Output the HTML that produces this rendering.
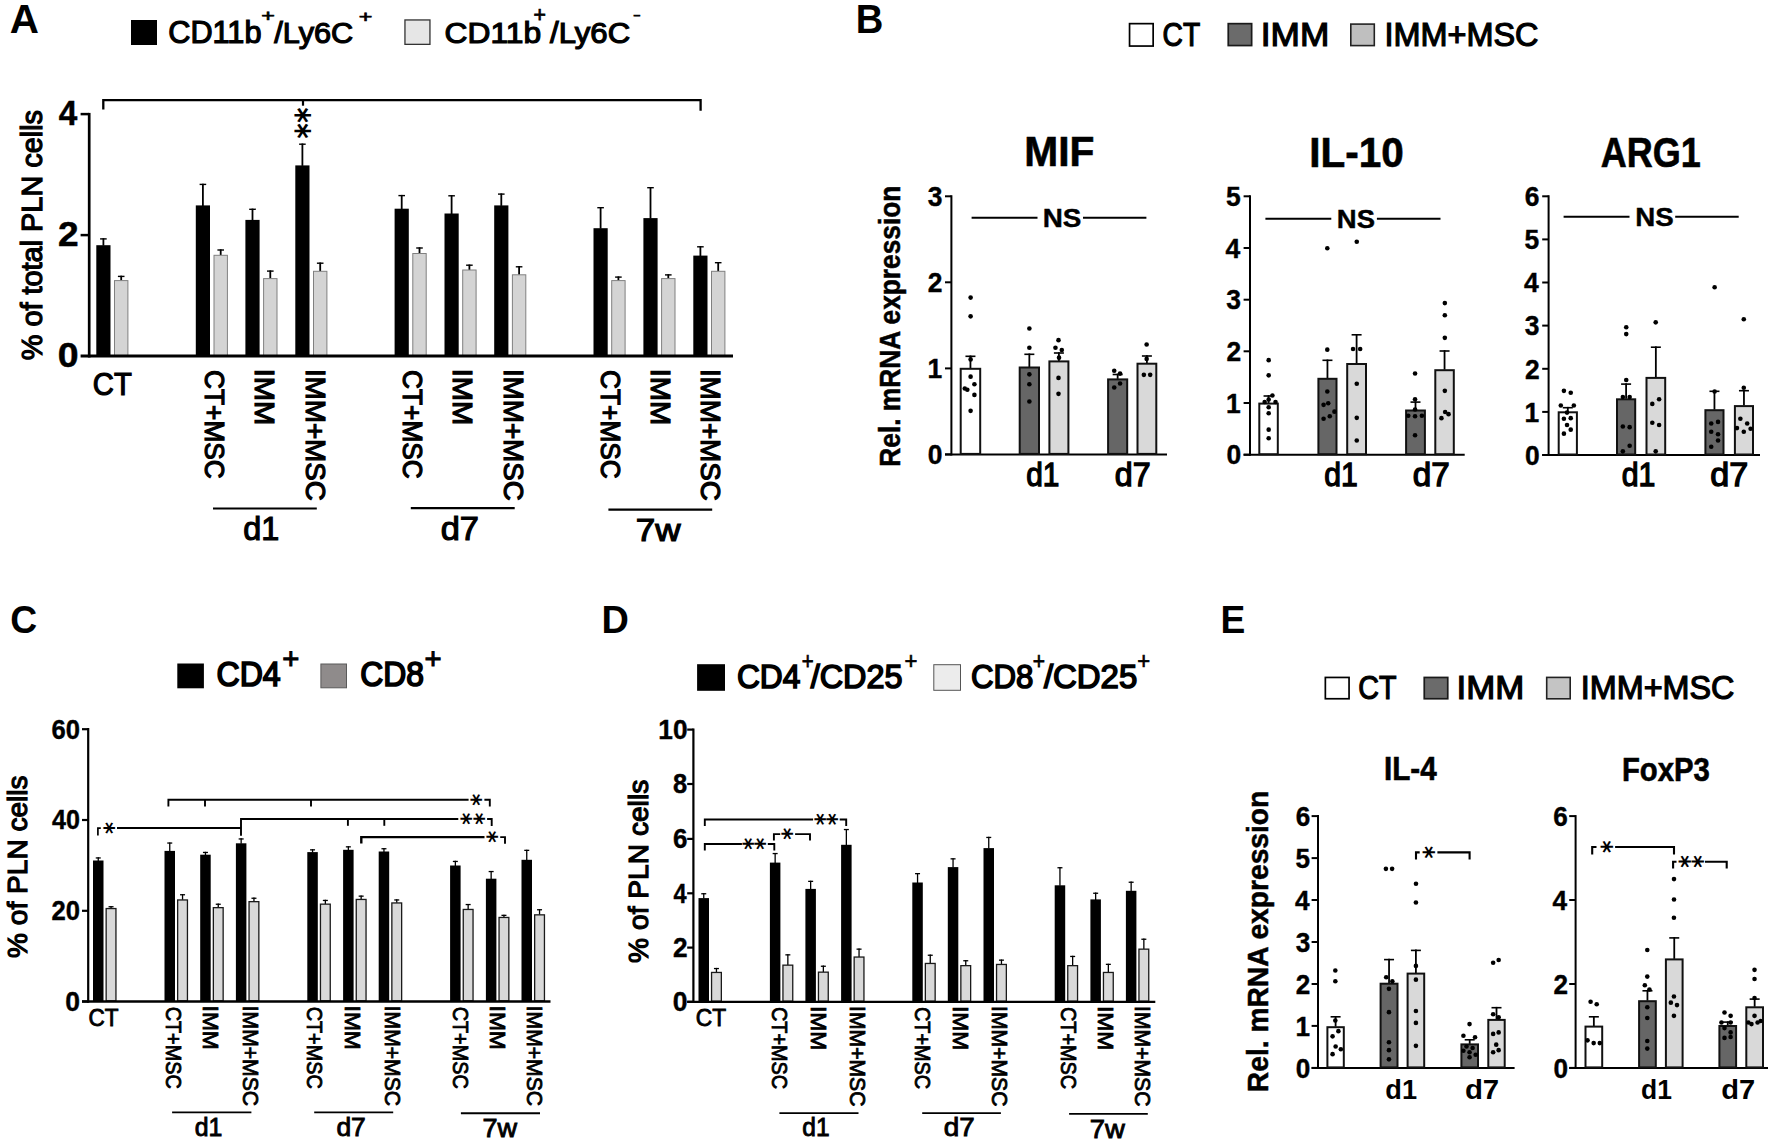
<!DOCTYPE html>
<html><head><meta charset="utf-8"><title>Figure</title>
<style>
html,body{margin:0;padding:0;background:#fff;}
body{width:1772px;height:1145px;overflow:hidden;}
svg{display:block;}
svg text{font-family:"Liberation Sans",sans-serif;fill:#000;}
</style></head><body>
<svg width="1772" height="1145" viewBox="0 0 1772 1145">
<rect width="1772" height="1145" fill="#fff"/>
<text transform="translate(9.79 33.2) scale(1.0186 1)" font-size="39.71" font-weight="bold">A</text>
<text transform="translate(855.82 33.2) scale(0.9619 1)" font-size="39.71" font-weight="bold">B</text>
<text transform="translate(10.31 632.9) scale(0.9381 1)" font-size="39.71" font-weight="bold">C</text>
<text transform="translate(601.44 632.9) scale(0.9541 1)" font-size="39.71" font-weight="bold">D</text>
<text transform="translate(1220.58 632.9) scale(0.9360 1)" font-size="39.71" font-weight="bold">E</text>
<rect x="131" y="20" width="26" height="25" fill="#000"/>
<text transform="translate(168.27 42.6) scale(1.0080 1)" font-size="30.43" stroke="#000" stroke-width="1.2">CD11b</text>
<text transform="translate(261.24 20.91) scale(0.2330 0.1571)" font-size="100" stroke="#000" stroke-width="4.1">+</text>
<text transform="translate(274.2 42.6) scale(1.0090 1)" font-size="30.43" stroke="#000" stroke-width="1.2">/Ly6C</text>
<text transform="translate(358.74 21.57) scale(0.2330 0.1633)" font-size="100" stroke="#000" stroke-width="4.04">+</text>
<rect x="404.95" y="19.95" width="25" height="24.4" fill="#e6e6e6" stroke="#333" stroke-width="1.3"/>
<text transform="translate(444.51 42.6) scale(1.0447 1)" font-size="30.43" stroke="#000" stroke-width="1.2">CD11b</text>
<text transform="translate(533.44 22.05) scale(0.2124 0.2163)" font-size="100" stroke="#000" stroke-width="3.73">+</text>
<text transform="translate(550 42.6) scale(1.0232 1)" font-size="30.43" stroke="#000" stroke-width="1.2">/Ly6C</text>
<text transform="translate(633.13 19.11) scale(0.2163 0.1250)" font-size="100" stroke="#000" stroke-width="7.03">-</text>
<text transform="translate(58.85 125.2) scale(0.9486 1)" font-size="35.07" font-weight="bold" stroke="#000" stroke-width="0.5">4</text>
<text transform="translate(58.05 246.2) scale(1.0573 1)" font-size="35.07" font-weight="bold" stroke="#000" stroke-width="0.5">2</text>
<text transform="translate(57.85 367.4) scale(1.0685 1)" font-size="35.07" font-weight="bold" stroke="#000" stroke-width="0.5">0</text>
<text transform="translate(41.8 360.31) rotate(-90) scale(0.9965 1)" font-size="28.99" stroke="#000" stroke-width="1.2">% of total PLN cells</text>
<path d="M103.4 238.2L103.4 245.7" fill="none" stroke="#000" stroke-width="1.8"/>
<path d="M100.1 238.9L106.7 238.9" fill="none" stroke="#000" stroke-width="1.4"/>
<rect x="96.3" y="245.2" width="14.2" height="110.8" fill="#000"/>
<path d="M121.2 275.7L121.2 280.6" fill="none" stroke="#000" stroke-width="1.8"/>
<path d="M117.9 276.4L124.5 276.4" fill="none" stroke="#000" stroke-width="1.4"/>
<rect x="114.5" y="280.6" width="13.4" height="74.9" fill="#d4d4d4" stroke="#808080" stroke-width="1"/>
<path d="M202.9 183.7L202.9 205.9" fill="none" stroke="#000" stroke-width="1.8"/>
<path d="M199.6 184.4L206.2 184.4" fill="none" stroke="#000" stroke-width="1.4"/>
<rect x="195.8" y="205.4" width="14.2" height="150.6" fill="#000"/>
<path d="M220.7 249.3L220.7 255.3" fill="none" stroke="#000" stroke-width="1.8"/>
<path d="M217.4 250L224 250" fill="none" stroke="#000" stroke-width="1.4"/>
<rect x="214" y="255.3" width="13.4" height="100.2" fill="#d4d4d4" stroke="#808080" stroke-width="1"/>
<path d="M252.5 208.6L252.5 220.4" fill="none" stroke="#000" stroke-width="1.8"/>
<path d="M249.2 209.3L255.8 209.3" fill="none" stroke="#000" stroke-width="1.4"/>
<rect x="245.4" y="219.9" width="14.2" height="136.1" fill="#000"/>
<path d="M270.3 270.4L270.3 278.6" fill="none" stroke="#000" stroke-width="1.8"/>
<path d="M267 271.1L273.6 271.1" fill="none" stroke="#000" stroke-width="1.4"/>
<rect x="263.6" y="278.6" width="13.4" height="76.9" fill="#d4d4d4" stroke="#808080" stroke-width="1"/>
<path d="M302.4 143.5L302.4 165.9" fill="none" stroke="#000" stroke-width="1.8"/>
<path d="M299.1 144.2L305.7 144.2" fill="none" stroke="#000" stroke-width="1.4"/>
<rect x="295.3" y="165.4" width="14.2" height="190.6" fill="#000"/>
<path d="M320.2 262.5L320.2 271.3" fill="none" stroke="#000" stroke-width="1.8"/>
<path d="M316.9 263.2L323.5 263.2" fill="none" stroke="#000" stroke-width="1.4"/>
<rect x="313.5" y="271.3" width="13.4" height="84.2" fill="#d4d4d4" stroke="#808080" stroke-width="1"/>
<path d="M401.7 194.9L401.7 209.2" fill="none" stroke="#000" stroke-width="1.8"/>
<path d="M398.4 195.6L405 195.6" fill="none" stroke="#000" stroke-width="1.4"/>
<rect x="394.6" y="208.7" width="14.2" height="147.3" fill="#000"/>
<path d="M419.5 247.3L419.5 253.5" fill="none" stroke="#000" stroke-width="1.8"/>
<path d="M416.2 248L422.8 248" fill="none" stroke="#000" stroke-width="1.4"/>
<rect x="412.8" y="253.5" width="13.4" height="102" fill="#d4d4d4" stroke="#808080" stroke-width="1"/>
<path d="M451.6 195.1L451.6 214" fill="none" stroke="#000" stroke-width="1.8"/>
<path d="M448.3 195.8L454.9 195.8" fill="none" stroke="#000" stroke-width="1.4"/>
<rect x="444.5" y="213.5" width="14.2" height="142.5" fill="#000"/>
<path d="M469.4 264.5L469.4 270" fill="none" stroke="#000" stroke-width="1.8"/>
<path d="M466.1 265.2L472.7 265.2" fill="none" stroke="#000" stroke-width="1.4"/>
<rect x="462.7" y="270" width="13.4" height="85.5" fill="#d4d4d4" stroke="#808080" stroke-width="1"/>
<path d="M501.3 193.4L501.3 205.9" fill="none" stroke="#000" stroke-width="1.8"/>
<path d="M498 194.1L504.6 194.1" fill="none" stroke="#000" stroke-width="1.4"/>
<rect x="494.2" y="205.4" width="14.2" height="150.6" fill="#000"/>
<path d="M519.1 266.1L519.1 274.8" fill="none" stroke="#000" stroke-width="1.8"/>
<path d="M515.8 266.8L522.4 266.8" fill="none" stroke="#000" stroke-width="1.4"/>
<rect x="512.4" y="274.8" width="13.4" height="80.7" fill="#d4d4d4" stroke="#808080" stroke-width="1"/>
<path d="M600.6 207L600.6 228.7" fill="none" stroke="#000" stroke-width="1.8"/>
<path d="M597.3 207.7L603.9 207.7" fill="none" stroke="#000" stroke-width="1.4"/>
<rect x="593.5" y="228.2" width="14.2" height="127.8" fill="#000"/>
<path d="M618.4 276.4L618.4 280.6" fill="none" stroke="#000" stroke-width="1.8"/>
<path d="M615.1 277.1L621.7 277.1" fill="none" stroke="#000" stroke-width="1.4"/>
<rect x="611.7" y="280.6" width="13.4" height="74.9" fill="#d4d4d4" stroke="#808080" stroke-width="1"/>
<path d="M650.5 187L650.5 218.6" fill="none" stroke="#000" stroke-width="1.8"/>
<path d="M647.2 187.7L653.8 187.7" fill="none" stroke="#000" stroke-width="1.4"/>
<rect x="643.4" y="218.1" width="14.2" height="137.9" fill="#000"/>
<path d="M668.3 274.2L668.3 278.6" fill="none" stroke="#000" stroke-width="1.8"/>
<path d="M665 274.9L671.6 274.9" fill="none" stroke="#000" stroke-width="1.4"/>
<rect x="661.6" y="278.6" width="13.4" height="76.9" fill="#d4d4d4" stroke="#808080" stroke-width="1"/>
<path d="M700.4 246.1L700.4 256.1" fill="none" stroke="#000" stroke-width="1.8"/>
<path d="M697.1 246.8L703.7 246.8" fill="none" stroke="#000" stroke-width="1.4"/>
<rect x="693.3" y="255.6" width="14.2" height="100.4" fill="#000"/>
<path d="M718.2 262L718.2 271.3" fill="none" stroke="#000" stroke-width="1.8"/>
<path d="M714.9 262.7L721.5 262.7" fill="none" stroke="#000" stroke-width="1.4"/>
<rect x="711.5" y="271.3" width="13.4" height="84.2" fill="#d4d4d4" stroke="#808080" stroke-width="1"/>
<path d="M89.2 112.9L89.2 357.5" fill="none" stroke="#000" stroke-width="2.7"/>
<path d="M80.6 356L733 356" fill="none" stroke="#000" stroke-width="3"/>
<path d="M80.6 114.1L89.2 114.1" fill="none" stroke="#000" stroke-width="2.5"/>
<path d="M80.6 235.1L89.2 235.1" fill="none" stroke="#000" stroke-width="2.5"/>
<path d="M103.3 109.4L103.3 100.1L700.6 100.1L700.6 110.7" fill="none" stroke="#000" stroke-width="2.3"/>
<path d="M303 100.1L303 105.7" fill="none" stroke="#000" stroke-width="2.2"/>
<text transform="translate(285.43 107.56) rotate(90) scale(0.2938 0.3462)" font-size="100" font-weight="bold" style="font-family:'DejaVu Sans',sans-serif">*</text>
<text transform="translate(285.43 123.36) rotate(90) scale(0.2938 0.3462)" font-size="100" font-weight="bold" style="font-family:'DejaVu Sans',sans-serif">*</text>
<text transform="translate(92.84 394.6) scale(0.9373 1)" font-size="31.16" stroke="#000" stroke-width="1.2">CT</text>
<text transform="translate(205 370.09) rotate(90) scale(0.9335 1)" font-size="28.12" stroke="#000" stroke-width="1.2">CT+MSC</text>
<text transform="translate(254.8 368.78) rotate(90) scale(1.0349 1)" font-size="28.12" stroke="#000" stroke-width="1.2">IMM</text>
<text transform="translate(306 368.9) rotate(90) scale(0.9882 1)" font-size="28.12" stroke="#000" stroke-width="1.2">IMM+MSC</text>
<text transform="translate(403.4 370.09) rotate(90) scale(0.9335 1)" font-size="28.12" stroke="#000" stroke-width="1.2">CT+MSC</text>
<text transform="translate(453.1 368.78) rotate(90) scale(1.0349 1)" font-size="28.12" stroke="#000" stroke-width="1.2">IMM</text>
<text transform="translate(503.7 368.9) rotate(90) scale(0.9882 1)" font-size="28.12" stroke="#000" stroke-width="1.2">IMM+MSC</text>
<text transform="translate(600.7 370.09) rotate(90) scale(0.9335 1)" font-size="28.12" stroke="#000" stroke-width="1.2">CT+MSC</text>
<text transform="translate(650.6 368.78) rotate(90) scale(1.0349 1)" font-size="28.12" stroke="#000" stroke-width="1.2">IMM</text>
<text transform="translate(701.2 368.9) rotate(90) scale(0.9882 1)" font-size="28.12" stroke="#000" stroke-width="1.2">IMM+MSC</text>
<path d="M213 508.5L316.8 508.5" fill="none" stroke="#000" stroke-width="2.2"/>
<path d="M410.8 508.2L514.7 508.2" fill="none" stroke="#000" stroke-width="2.2"/>
<path d="M608.4 509.6L712.2 509.6" fill="none" stroke="#000" stroke-width="2.2"/>
<text transform="translate(243.2 539.7) scale(0.9592 1)" font-size="33.77" stroke="#000" stroke-width="1.2">d1</text>
<text transform="translate(440.72 539.7) scale(1.0191 1)" font-size="33.77" stroke="#000" stroke-width="1.2">d7</text>
<text transform="translate(635.65 540.5) scale(1.0990 1)" font-size="31.88" stroke="#000" stroke-width="1.2">7w</text>
<rect x="1129.55" y="23.65" width="23.6" height="22.4" fill="#fff" stroke="#000" stroke-width="1.7"/>
<text transform="translate(1162.59 45.8) scale(0.8718 1)" font-size="32.32" stroke="#000" stroke-width="1.2">CT</text>
<rect x="1228.25" y="23.65" width="23.4" height="21.9" fill="#6b6b6b" stroke="#1a1a1a" stroke-width="1.7"/>
<text transform="translate(1260.83 45.8) scale(1.0908 1)" font-size="32.32" stroke="#000" stroke-width="1.2">IMM</text>
<rect x="1350.8" y="24.1" width="23.5" height="21.5" fill="#bfbfbf" stroke="#222" stroke-width="1.6"/>
<text transform="translate(1384.48 46.2) scale(1.0035 1)" font-size="32.32" stroke="#000" stroke-width="1.2">IMM+MSC</text>
<text transform="translate(1024.25 165.9) scale(0.9693 1)" font-size="42.03" font-weight="bold" stroke="#000" stroke-width="0.6">MIF</text>
<text transform="translate(1309.17 166.5) scale(0.9645 1)" font-size="42.03" font-weight="bold" stroke="#000" stroke-width="0.6">IL-10</text>
<text transform="translate(1600.7 166.5) scale(0.8566 1)" font-size="42.03" font-weight="bold" stroke="#000" stroke-width="0.6">ARG1</text>
<text transform="translate(899.8 466.66) rotate(-90) scale(0.8897 1)" font-size="29.57" font-weight="bold" stroke="#000" stroke-width="0.5">Rel. mRNA expression</text>
<path d="M951.4 195.3L951.4 455.4" fill="none" stroke="#000" stroke-width="2"/>
<path d="M945 454.4L1167 454.4" fill="none" stroke="#000" stroke-width="2"/>
<path d="M945 196.3L951.4 196.3" fill="none" stroke="#000" stroke-width="2"/>
<text transform="translate(927.65 206) scale(0.9703 1)" font-size="27.25" font-weight="bold" stroke="#000" stroke-width="0.4">3</text>
<path d="M945 282.3L951.4 282.3" fill="none" stroke="#000" stroke-width="2"/>
<text transform="translate(927.8 292) scale(0.9694 1)" font-size="27.25" font-weight="bold" stroke="#000" stroke-width="0.4">2</text>
<path d="M945 368.4L951.4 368.4" fill="none" stroke="#000" stroke-width="2"/>
<text transform="translate(927.41 378.1) scale(0.9688 1)" font-size="27.25" font-weight="bold" stroke="#000" stroke-width="0.4">1</text>
<path d="M945 454.4L951.4 454.4" fill="none" stroke="#000" stroke-width="2"/>
<text transform="translate(927.8 464.1) scale(0.9691 1)" font-size="27.25" font-weight="bold" stroke="#000" stroke-width="0.4">0</text>
<path d="M970.45 355.5L970.45 368.3" fill="none" stroke="#000" stroke-width="1.8"/>
<path d="M965.45 356.3L975.45 356.3" fill="none" stroke="#000" stroke-width="1.6"/>
<rect x="960.7" y="368.8" width="19.5" height="85.1" fill="#fff" stroke="#111" stroke-width="2"/>
<path d="M1029.35 353.5L1029.35 367" fill="none" stroke="#000" stroke-width="1.8"/>
<path d="M1024.35 354.3L1034.35 354.3" fill="none" stroke="#000" stroke-width="1.6"/>
<rect x="1019.7" y="367.5" width="19.3" height="86.4" fill="#666" stroke="#111" stroke-width="2"/>
<path d="M1058.9 352.2L1058.9 360.9" fill="none" stroke="#000" stroke-width="1.8"/>
<path d="M1053.9 353L1063.9 353" fill="none" stroke="#000" stroke-width="1.6"/>
<rect x="1049.4" y="361.4" width="19" height="92.5" fill="#d9d9d9" stroke="#111" stroke-width="2"/>
<path d="M1117.65 373.7L1117.65 378.9" fill="none" stroke="#000" stroke-width="1.8"/>
<path d="M1112.65 374.5L1122.65 374.5" fill="none" stroke="#000" stroke-width="1.6"/>
<rect x="1108.1" y="379.4" width="19.1" height="74.5" fill="#666" stroke="#111" stroke-width="2"/>
<path d="M1146.9 355.2L1146.9 363.2" fill="none" stroke="#000" stroke-width="1.8"/>
<path d="M1141.9 356L1151.9 356" fill="none" stroke="#000" stroke-width="1.6"/>
<rect x="1137.5" y="363.7" width="18.8" height="90.2" fill="#d9d9d9" stroke="#111" stroke-width="2"/>
<circle cx="970.61" cy="297.62" r="2.3"/>
<circle cx="970.61" cy="316.36" r="2.3"/>
<circle cx="970.61" cy="359.42" r="2.3"/>
<circle cx="970.61" cy="376.65" r="2.3"/>
<circle cx="964.78" cy="388.55" r="2.3"/>
<circle cx="967.32" cy="389.82" r="2.3"/>
<circle cx="974.41" cy="384.25" r="2.3"/>
<circle cx="974.41" cy="394.88" r="2.3"/>
<circle cx="970.61" cy="410.84" r="2.3"/>
<circle cx="1029.37" cy="328.52" r="2.3"/>
<circle cx="1029.37" cy="347.77" r="2.3"/>
<circle cx="1029.37" cy="374.37" r="2.3"/>
<circle cx="1029.37" cy="384.25" r="2.3"/>
<circle cx="1029.37" cy="401.47" r="2.3"/>
<circle cx="1058.5" cy="340.17" r="2.3"/>
<circle cx="1055.46" cy="347.77" r="2.3"/>
<circle cx="1061.8" cy="350.05" r="2.3"/>
<circle cx="1059.01" cy="357.65" r="2.3"/>
<circle cx="1058.5" cy="377.91" r="2.3"/>
<circle cx="1058.5" cy="393.87" r="2.3"/>
<circle cx="1114.23" cy="370.82" r="2.3"/>
<circle cx="1120.05" cy="373.61" r="2.3"/>
<circle cx="1114.23" cy="387.54" r="2.3"/>
<circle cx="1120.05" cy="383.49" r="2.3"/>
<circle cx="1146.65" cy="344.48" r="2.3"/>
<circle cx="1146.65" cy="358.92" r="2.3"/>
<circle cx="1143.86" cy="374.87" r="2.3"/>
<circle cx="1150.19" cy="374.87" r="2.3"/>
<text transform="translate(1026.16 485.8) scale(0.9155 1)" font-size="32.61" stroke="#000" stroke-width="1.3">d1</text>
<text transform="translate(1114.76 485.8) scale(0.9892 1)" font-size="32.61" stroke="#000" stroke-width="1.3">d7</text>
<path d="M971.6 217.8L1037.5 217.8" fill="none" stroke="#000" stroke-width="2"/>
<path d="M1083 217.8L1146.4 217.8" fill="none" stroke="#000" stroke-width="2"/>
<text transform="translate(1042.69 227) scale(1.0680 1)" font-size="26.09" font-weight="bold" stroke="#000" stroke-width="0.4">NS</text>
<path d="M1250 195.3L1250 455.7" fill="none" stroke="#000" stroke-width="2"/>
<path d="M1243.6 454.7L1464.7 454.7" fill="none" stroke="#000" stroke-width="2"/>
<path d="M1243.6 196.3L1250 196.3" fill="none" stroke="#000" stroke-width="2"/>
<text transform="translate(1225.98 206) scale(0.9706 1)" font-size="27.25" font-weight="bold" stroke="#000" stroke-width="0.4">5</text>
<path d="M1243.6 248L1250 248" fill="none" stroke="#000" stroke-width="2"/>
<text transform="translate(1225.43 257.7) scale(0.9726 1)" font-size="27.25" font-weight="bold" stroke="#000" stroke-width="0.4">4</text>
<path d="M1243.6 299.7L1250 299.7" fill="none" stroke="#000" stroke-width="2"/>
<text transform="translate(1226.25 309.4) scale(0.9703 1)" font-size="27.25" font-weight="bold" stroke="#000" stroke-width="0.4">3</text>
<path d="M1243.6 351.3L1250 351.3" fill="none" stroke="#000" stroke-width="2"/>
<text transform="translate(1226.4 361) scale(0.9694 1)" font-size="27.25" font-weight="bold" stroke="#000" stroke-width="0.4">2</text>
<path d="M1243.6 403L1250 403" fill="none" stroke="#000" stroke-width="2"/>
<text transform="translate(1226.01 412.7) scale(0.9688 1)" font-size="27.25" font-weight="bold" stroke="#000" stroke-width="0.4">1</text>
<path d="M1243.6 454.7L1250 454.7" fill="none" stroke="#000" stroke-width="2"/>
<text transform="translate(1226.4 464.4) scale(0.9691 1)" font-size="27.25" font-weight="bold" stroke="#000" stroke-width="0.4">0</text>
<path d="M1268.55 395.2L1268.55 403.1" fill="none" stroke="#000" stroke-width="1.8"/>
<path d="M1263.55 396L1273.55 396" fill="none" stroke="#000" stroke-width="1.6"/>
<rect x="1259.3" y="403.6" width="18.5" height="50.6" fill="#fff" stroke="#111" stroke-width="2"/>
<path d="M1327.45 359.5L1327.45 378.3" fill="none" stroke="#000" stroke-width="1.8"/>
<path d="M1322.45 360.3L1332.45 360.3" fill="none" stroke="#000" stroke-width="1.6"/>
<rect x="1318.4" y="378.8" width="18.1" height="75.4" fill="#666" stroke="#111" stroke-width="2"/>
<path d="M1356.6 334L1356.6 363.5" fill="none" stroke="#000" stroke-width="1.8"/>
<path d="M1351.6 334.8L1361.6 334.8" fill="none" stroke="#000" stroke-width="1.6"/>
<rect x="1347.2" y="364" width="18.8" height="90.2" fill="#d9d9d9" stroke="#111" stroke-width="2"/>
<path d="M1415.5 401.3L1415.5 410" fill="none" stroke="#000" stroke-width="1.8"/>
<path d="M1410.5 402.1L1420.5 402.1" fill="none" stroke="#000" stroke-width="1.6"/>
<rect x="1406.1" y="410.5" width="18.8" height="43.7" fill="#666" stroke="#111" stroke-width="2"/>
<path d="M1444.55 350.2L1444.55 369.7" fill="none" stroke="#000" stroke-width="1.8"/>
<path d="M1439.55 351L1449.55 351" fill="none" stroke="#000" stroke-width="1.6"/>
<rect x="1435.3" y="370.2" width="18.5" height="84" fill="#d9d9d9" stroke="#111" stroke-width="2"/>
<circle cx="1268.69" cy="360.17" r="2.3"/>
<circle cx="1268.69" cy="375.37" r="2.3"/>
<circle cx="1264.66" cy="402.04" r="2.3"/>
<circle cx="1272.41" cy="395.52" r="2.3"/>
<circle cx="1275.52" cy="402.04" r="2.3"/>
<circle cx="1268.69" cy="399.56" r="2.3"/>
<circle cx="1268.69" cy="407.31" r="2.3"/>
<circle cx="1268.69" cy="413.2" r="2.3"/>
<circle cx="1268.69" cy="429.64" r="2.3"/>
<circle cx="1268.69" cy="438.32" r="2.3"/>
<circle cx="1327.3" cy="248.22" r="2.3"/>
<circle cx="1327.3" cy="349.63" r="2.3"/>
<circle cx="1327.3" cy="391.49" r="2.3"/>
<circle cx="1323.58" cy="404.83" r="2.3"/>
<circle cx="1328.23" cy="403.28" r="2.3"/>
<circle cx="1323.58" cy="418.78" r="2.3"/>
<circle cx="1329.78" cy="416.3" r="2.3"/>
<circle cx="1334.44" cy="411.65" r="2.3"/>
<circle cx="1356.76" cy="241.71" r="2.3"/>
<circle cx="1353.04" cy="349.01" r="2.3"/>
<circle cx="1360.17" cy="349.01" r="2.3"/>
<circle cx="1356.76" cy="383.74" r="2.3"/>
<circle cx="1356.76" cy="417.85" r="2.3"/>
<circle cx="1356.76" cy="440.49" r="2.3"/>
<circle cx="1415.06" cy="373.51" r="2.3"/>
<circle cx="1415.06" cy="399.25" r="2.3"/>
<circle cx="1415.06" cy="409.48" r="2.3"/>
<circle cx="1408.24" cy="415.68" r="2.3"/>
<circle cx="1415.06" cy="416.3" r="2.3"/>
<circle cx="1421.89" cy="415.68" r="2.3"/>
<circle cx="1415.06" cy="435.22" r="2.3"/>
<circle cx="1444.83" cy="303.11" r="2.3"/>
<circle cx="1444.83" cy="315.21" r="2.3"/>
<circle cx="1444.83" cy="337.84" r="2.3"/>
<circle cx="1444.83" cy="390.87" r="2.3"/>
<circle cx="1441.42" cy="418.16" r="2.3"/>
<circle cx="1445.14" cy="411.96" r="2.3"/>
<circle cx="1448.56" cy="414.13" r="2.3"/>
<text transform="translate(1324.24 485.8) scale(0.9245 1)" font-size="32.61" stroke="#000" stroke-width="1.3">d1</text>
<text transform="translate(1412.82 485.8) scale(1.0192 1)" font-size="32.61" stroke="#000" stroke-width="1.3">d7</text>
<path d="M1265.4 218.8L1331.3 218.8" fill="none" stroke="#000" stroke-width="2"/>
<path d="M1376.9 218.8L1440.5 218.8" fill="none" stroke="#000" stroke-width="2"/>
<text transform="translate(1336.81 228) scale(1.0530 1)" font-size="26.09" font-weight="bold" stroke="#000" stroke-width="0.4">NS</text>
<path d="M1548.6 195.3L1548.6 456" fill="none" stroke="#000" stroke-width="2"/>
<path d="M1542.2 455L1760 455" fill="none" stroke="#000" stroke-width="2"/>
<path d="M1542.2 196.3L1548.6 196.3" fill="none" stroke="#000" stroke-width="2"/>
<text transform="translate(1524.86 206) scale(0.9697 1)" font-size="27.25" font-weight="bold" stroke="#000" stroke-width="0.4">6</text>
<path d="M1542.2 239.4L1548.6 239.4" fill="none" stroke="#000" stroke-width="2"/>
<text transform="translate(1524.58 249.1) scale(0.9706 1)" font-size="27.25" font-weight="bold" stroke="#000" stroke-width="0.4">5</text>
<path d="M1542.2 282.5L1548.6 282.5" fill="none" stroke="#000" stroke-width="2"/>
<text transform="translate(1524.03 292.2) scale(0.9726 1)" font-size="27.25" font-weight="bold" stroke="#000" stroke-width="0.4">4</text>
<path d="M1542.2 325.6L1548.6 325.6" fill="none" stroke="#000" stroke-width="2"/>
<text transform="translate(1524.85 335.3) scale(0.9703 1)" font-size="27.25" font-weight="bold" stroke="#000" stroke-width="0.4">3</text>
<path d="M1542.2 368.8L1548.6 368.8" fill="none" stroke="#000" stroke-width="2"/>
<text transform="translate(1525 378.5) scale(0.9694 1)" font-size="27.25" font-weight="bold" stroke="#000" stroke-width="0.4">2</text>
<path d="M1542.2 411.9L1548.6 411.9" fill="none" stroke="#000" stroke-width="2"/>
<text transform="translate(1524.61 421.6) scale(0.9688 1)" font-size="27.25" font-weight="bold" stroke="#000" stroke-width="0.4">1</text>
<path d="M1542.2 455L1548.6 455" fill="none" stroke="#000" stroke-width="2"/>
<text transform="translate(1525 464.7) scale(0.9691 1)" font-size="27.25" font-weight="bold" stroke="#000" stroke-width="0.4">0</text>
<path d="M1567.8 406.9L1567.8 411.8" fill="none" stroke="#000" stroke-width="1.8"/>
<path d="M1562.8 407.7L1572.8 407.7" fill="none" stroke="#000" stroke-width="1.6"/>
<rect x="1558.7" y="412.3" width="18.2" height="42.2" fill="#fff" stroke="#111" stroke-width="2"/>
<path d="M1626.1 383.3L1626.1 398.8" fill="none" stroke="#000" stroke-width="1.8"/>
<path d="M1621.1 384.1L1631.1 384.1" fill="none" stroke="#000" stroke-width="1.6"/>
<rect x="1617" y="399.3" width="18.2" height="55.2" fill="#666" stroke="#111" stroke-width="2"/>
<path d="M1655.85 346.4L1655.85 377.4" fill="none" stroke="#000" stroke-width="1.8"/>
<path d="M1650.85 347.2L1660.85 347.2" fill="none" stroke="#000" stroke-width="1.6"/>
<rect x="1646.5" y="377.9" width="18.7" height="76.6" fill="#d9d9d9" stroke="#111" stroke-width="2"/>
<path d="M1714.45 390.5L1714.45 409.7" fill="none" stroke="#000" stroke-width="1.8"/>
<path d="M1709.45 391.3L1719.45 391.3" fill="none" stroke="#000" stroke-width="1.6"/>
<rect x="1705.4" y="410.2" width="18.1" height="44.3" fill="#666" stroke="#111" stroke-width="2"/>
<path d="M1743.95 389.9L1743.95 405.6" fill="none" stroke="#000" stroke-width="1.8"/>
<path d="M1738.95 390.7L1748.95 390.7" fill="none" stroke="#000" stroke-width="1.6"/>
<rect x="1734.9" y="406.1" width="18.1" height="48.4" fill="#d9d9d9" stroke="#111" stroke-width="2"/>
<circle cx="1563.91" cy="390.87" r="2.3"/>
<circle cx="1570.74" cy="392.73" r="2.3"/>
<circle cx="1560.81" cy="405.45" r="2.3"/>
<circle cx="1573.84" cy="405.45" r="2.3"/>
<circle cx="1567.02" cy="412.58" r="2.3"/>
<circle cx="1563.91" cy="418.78" r="2.3"/>
<circle cx="1570.74" cy="418.16" r="2.3"/>
<circle cx="1570.74" cy="429.64" r="2.3"/>
<circle cx="1563.91" cy="433.67" r="2.3"/>
<circle cx="1567.02" cy="424.98" r="2.3"/>
<circle cx="1626.25" cy="327.3" r="2.3"/>
<circle cx="1626.25" cy="334.12" r="2.3"/>
<circle cx="1626.25" cy="380.02" r="2.3"/>
<circle cx="1622.84" cy="397.07" r="2.3"/>
<circle cx="1629.66" cy="397.07" r="2.3"/>
<circle cx="1622.84" cy="426.53" r="2.3"/>
<circle cx="1629.66" cy="427.15" r="2.3"/>
<circle cx="1629.66" cy="445.76" r="2.3"/>
<circle cx="1622.84" cy="451.34" r="2.3"/>
<circle cx="1655.71" cy="322.34" r="2.3"/>
<circle cx="1659.12" cy="399.25" r="2.3"/>
<circle cx="1652.3" cy="403.9" r="2.3"/>
<circle cx="1652.3" cy="422.81" r="2.3"/>
<circle cx="1659.12" cy="424.98" r="2.3"/>
<circle cx="1655.71" cy="451.34" r="2.3"/>
<circle cx="1714.63" cy="287.3" r="2.3"/>
<circle cx="1714.63" cy="391.49" r="2.3"/>
<circle cx="1711.22" cy="423.43" r="2.3"/>
<circle cx="1718.04" cy="421.88" r="2.3"/>
<circle cx="1711.22" cy="431.81" r="2.3"/>
<circle cx="1718.04" cy="434.29" r="2.3"/>
<circle cx="1718.04" cy="440.49" r="2.3"/>
<circle cx="1711.22" cy="446.69" r="2.3"/>
<circle cx="1743.78" cy="319.24" r="2.3"/>
<circle cx="1743.78" cy="387.77" r="2.3"/>
<circle cx="1740.37" cy="418.78" r="2.3"/>
<circle cx="1747.19" cy="423.43" r="2.3"/>
<circle cx="1736.95" cy="428.09" r="2.3"/>
<circle cx="1743.78" cy="431.81" r="2.3"/>
<circle cx="1750.6" cy="428.71" r="2.3"/>
<text transform="translate(1621.64 485.8) scale(0.9305 1)" font-size="32.61" stroke="#000" stroke-width="1.3">d1</text>
<text transform="translate(1710.19 485.8) scale(1.0463 1)" font-size="32.61" stroke="#000" stroke-width="1.3">d7</text>
<path d="M1563.6 216.8L1629.5 216.8" fill="none" stroke="#000" stroke-width="2"/>
<path d="M1675.2 216.8L1738.7 216.8" fill="none" stroke="#000" stroke-width="2"/>
<text transform="translate(1635.2 226) scale(1.0620 1)" font-size="26.09" font-weight="bold" stroke="#000" stroke-width="0.4">NS</text>
<rect x="177.3" y="663.5" width="26.6" height="24.8" fill="#000"/>
<text transform="translate(216.55 686.3) scale(0.9380 1)" font-size="34.2" stroke="#000" stroke-width="1.7">CD4</text>
<text transform="translate(282.24 668.52) scale(0.2928 0.3020)" font-size="100" stroke="#000" stroke-width="3.36">+</text>
<rect x="320.9" y="664" width="25.6" height="23.8" fill="#8f8b8b" stroke="#5a5a5a" stroke-width="1"/>
<text transform="translate(360.16 686.3) scale(0.9322 1)" font-size="34.2" stroke="#000" stroke-width="1.7">CD8</text>
<text transform="translate(424.54 668.52) scale(0.2928 0.3020)" font-size="100" stroke="#000" stroke-width="3.36">+</text>
<path d="M98.25 857.3L98.25 861" fill="none" stroke="#000" stroke-width="1.3"/>
<path d="M95.75 857.95L100.75 857.95" fill="none" stroke="#000" stroke-width="1.3"/>
<rect x="93" y="860.5" width="10.5" height="141" fill="#000"/>
<path d="M111.05 906.1L111.05 908.4" fill="none" stroke="#000" stroke-width="1.3"/>
<path d="M108.55 906.75L113.55 906.75" fill="none" stroke="#000" stroke-width="1.3"/>
<rect x="106.15" y="908.55" width="9.8" height="92.3" fill="#d9d9d9" stroke="#1a1a1a" stroke-width="1.3"/>
<path d="M169.75 842.4L169.75 851.4" fill="none" stroke="#000" stroke-width="1.3"/>
<path d="M167.25 843.05L172.25 843.05" fill="none" stroke="#000" stroke-width="1.3"/>
<rect x="164.5" y="850.9" width="10.5" height="150.6" fill="#000"/>
<path d="M182.55 894.1L182.55 899.8" fill="none" stroke="#000" stroke-width="1.3"/>
<path d="M180.05 894.75L185.05 894.75" fill="none" stroke="#000" stroke-width="1.3"/>
<rect x="177.65" y="899.95" width="9.8" height="100.9" fill="#d9d9d9" stroke="#1a1a1a" stroke-width="1.3"/>
<path d="M205.45 851.8L205.45 855.2" fill="none" stroke="#000" stroke-width="1.3"/>
<path d="M202.95 852.45L207.95 852.45" fill="none" stroke="#000" stroke-width="1.3"/>
<rect x="200.2" y="854.7" width="10.5" height="146.8" fill="#000"/>
<path d="M218.25 903.6L218.25 907.5" fill="none" stroke="#000" stroke-width="1.3"/>
<path d="M215.75 904.25L220.75 904.25" fill="none" stroke="#000" stroke-width="1.3"/>
<rect x="213.35" y="907.65" width="9.8" height="93.2" fill="#d9d9d9" stroke="#1a1a1a" stroke-width="1.3"/>
<path d="M241.15 838.3L241.15 843.8" fill="none" stroke="#000" stroke-width="1.3"/>
<path d="M238.65 838.95L243.65 838.95" fill="none" stroke="#000" stroke-width="1.3"/>
<rect x="235.9" y="843.3" width="10.5" height="158.2" fill="#000"/>
<path d="M253.95 897.6L253.95 901.5" fill="none" stroke="#000" stroke-width="1.3"/>
<path d="M251.45 898.25L256.45 898.25" fill="none" stroke="#000" stroke-width="1.3"/>
<rect x="249.05" y="901.65" width="9.8" height="99.2" fill="#d9d9d9" stroke="#1a1a1a" stroke-width="1.3"/>
<path d="M312.55 849.2L312.55 852.6" fill="none" stroke="#000" stroke-width="1.3"/>
<path d="M310.05 849.85L315.05 849.85" fill="none" stroke="#000" stroke-width="1.3"/>
<rect x="307.3" y="852.1" width="10.5" height="149.4" fill="#000"/>
<path d="M325.35 899.8L325.35 904" fill="none" stroke="#000" stroke-width="1.3"/>
<path d="M322.85 900.45L327.85 900.45" fill="none" stroke="#000" stroke-width="1.3"/>
<rect x="320.45" y="904.15" width="9.8" height="96.7" fill="#d9d9d9" stroke="#1a1a1a" stroke-width="1.3"/>
<path d="M348.35 846.2L348.35 850.3" fill="none" stroke="#000" stroke-width="1.3"/>
<path d="M345.85 846.85L350.85 846.85" fill="none" stroke="#000" stroke-width="1.3"/>
<rect x="343.1" y="849.8" width="10.5" height="151.7" fill="#000"/>
<path d="M361.15 895.5L361.15 899.3" fill="none" stroke="#000" stroke-width="1.3"/>
<path d="M358.65 896.15L363.65 896.15" fill="none" stroke="#000" stroke-width="1.3"/>
<rect x="356.25" y="899.45" width="9.8" height="101.4" fill="#d9d9d9" stroke="#1a1a1a" stroke-width="1.3"/>
<path d="M383.95 848.1L383.95 852" fill="none" stroke="#000" stroke-width="1.3"/>
<path d="M381.45 848.75L386.45 848.75" fill="none" stroke="#000" stroke-width="1.3"/>
<rect x="378.7" y="851.5" width="10.5" height="150" fill="#000"/>
<path d="M396.75 899.3L396.75 902.8" fill="none" stroke="#000" stroke-width="1.3"/>
<path d="M394.25 899.95L399.25 899.95" fill="none" stroke="#000" stroke-width="1.3"/>
<rect x="391.85" y="902.95" width="9.8" height="97.9" fill="#d9d9d9" stroke="#1a1a1a" stroke-width="1.3"/>
<path d="M455.35 860.8L455.35 866" fill="none" stroke="#000" stroke-width="1.3"/>
<path d="M452.85 861.45L457.85 861.45" fill="none" stroke="#000" stroke-width="1.3"/>
<rect x="450.1" y="865.5" width="10.5" height="136" fill="#000"/>
<path d="M468.15 903.9L468.15 909.3" fill="none" stroke="#000" stroke-width="1.3"/>
<path d="M465.65 904.55L470.65 904.55" fill="none" stroke="#000" stroke-width="1.3"/>
<rect x="463.25" y="909.45" width="9.8" height="91.4" fill="#d9d9d9" stroke="#1a1a1a" stroke-width="1.3"/>
<path d="M491.15 870.9L491.15 879.2" fill="none" stroke="#000" stroke-width="1.3"/>
<path d="M488.65 871.55L493.65 871.55" fill="none" stroke="#000" stroke-width="1.3"/>
<rect x="485.9" y="878.7" width="10.5" height="122.8" fill="#000"/>
<path d="M503.95 914.7L503.95 917.3" fill="none" stroke="#000" stroke-width="1.3"/>
<path d="M501.45 915.35L506.45 915.35" fill="none" stroke="#000" stroke-width="1.3"/>
<rect x="499.05" y="917.45" width="9.8" height="83.4" fill="#d9d9d9" stroke="#1a1a1a" stroke-width="1.3"/>
<path d="M526.75 849.7L526.75 860.3" fill="none" stroke="#000" stroke-width="1.3"/>
<path d="M524.25 850.35L529.25 850.35" fill="none" stroke="#000" stroke-width="1.3"/>
<rect x="521.5" y="859.8" width="10.5" height="141.7" fill="#000"/>
<path d="M539.55 909.1L539.55 914.7" fill="none" stroke="#000" stroke-width="1.3"/>
<path d="M537.05 909.75L542.05 909.75" fill="none" stroke="#000" stroke-width="1.3"/>
<rect x="534.65" y="914.85" width="9.8" height="86" fill="#d9d9d9" stroke="#1a1a1a" stroke-width="1.3"/>
<path d="M88.2 728.1L88.2 1002.65" fill="none" stroke="#000" stroke-width="2.2"/>
<path d="M82 1001.5L550.5 1001.5" fill="none" stroke="#000" stroke-width="2.3"/>
<path d="M82 729.2L88.2 729.2" fill="none" stroke="#000" stroke-width="2.2"/>
<text transform="translate(51.4 738.6) scale(0.9397 1)" font-size="27.25" font-weight="bold" stroke="#000" stroke-width="0.4">60</text>
<path d="M82 820L88.2 820" fill="none" stroke="#000" stroke-width="2.2"/>
<text transform="translate(51.92 829.4) scale(0.9219 1)" font-size="27.25" font-weight="bold" stroke="#000" stroke-width="0.4">40</text>
<path d="M82 910.8L88.2 910.8" fill="none" stroke="#000" stroke-width="2.2"/>
<text transform="translate(51.4 920.2) scale(0.9397 1)" font-size="27.25" font-weight="bold" stroke="#000" stroke-width="0.4">20</text>
<path d="M82 1001.5L88.2 1001.5" fill="none" stroke="#000" stroke-width="2.2"/>
<text transform="translate(65.14 1010.9) scale(0.9736 1)" font-size="27.25" font-weight="bold" stroke="#000" stroke-width="0.4">0</text>
<text transform="translate(27.3 957.88) rotate(-90) scale(0.9880 1)" font-size="28.41" stroke="#000" stroke-width="1.2">% of PLN cells</text>
<path d="M168.4 806.6L168.4 799.7L468.6 799.7" fill="none" stroke="#000" stroke-width="1.9"/>
<path d="M205 799.7L205 806.4" fill="none" stroke="#000" stroke-width="1.9"/>
<path d="M311 799.7L311 806.4" fill="none" stroke="#000" stroke-width="1.9"/>
<text transform="translate(464.36 793.74) rotate(90) scale(0.2292 0.2452)" font-size="100" font-weight="bold" style="font-family:'DejaVu Sans',sans-serif">*</text>
<path d="M484.4 799.7L489.8 799.7L489.8 806.6" fill="none" stroke="#000" stroke-width="1.9"/>
<path d="M241 835.7L241 819L458.3 819" fill="none" stroke="#000" stroke-width="1.9"/>
<path d="M347.9 819L347.9 825.8" fill="none" stroke="#000" stroke-width="1.9"/>
<path d="M384.3 819L384.3 825.8" fill="none" stroke="#000" stroke-width="1.9"/>
<text transform="translate(453.96 812.84) rotate(90) scale(0.2292 0.2452)" font-size="100" font-weight="bold" style="font-family:'DejaVu Sans',sans-serif">*</text>
<text transform="translate(467.26 812.84) rotate(90) scale(0.2292 0.2452)" font-size="100" font-weight="bold" style="font-family:'DejaVu Sans',sans-serif">*</text>
<path d="M487.1 819L491.7 819L491.7 825.9" fill="none" stroke="#000" stroke-width="1.9"/>
<path d="M361.3 843.6L361.3 837.1L484.5 837.1" fill="none" stroke="#000" stroke-width="2.4"/>
<text transform="translate(479.86 830.64) rotate(90) scale(0.2292 0.2452)" font-size="100" font-weight="bold" style="font-family:'DejaVu Sans',sans-serif">*</text>
<path d="M500.2 837.1L505 837.1L505 843.7" fill="none" stroke="#000" stroke-width="1.9"/>
<path d="M97.9 835.6L97.9 828.1L100.8 828.1" fill="none" stroke="#000" stroke-width="1.7"/>
<text transform="translate(96.56 822.04) rotate(90) scale(0.2292 0.2452)" font-size="100" font-weight="bold" style="font-family:'DejaVu Sans',sans-serif">*</text>
<path d="M117 828L241 828" fill="none" stroke="#000" stroke-width="1.9"/>
<text transform="translate(88.42 1025.6) scale(0.9148 1)" font-size="24.64" stroke="#000" stroke-width="0.9">CT</text>
<text transform="translate(165.53 1006.63) rotate(90) scale(0.8958 1)" font-size="22.17" stroke="#000" stroke-width="0.85">CT+MSC</text>
<text transform="translate(203.43 1005.58) rotate(90) scale(1.0230 1)" font-size="22.17" stroke="#000" stroke-width="0.85">IMM</text>
<text transform="translate(242.53 1005.72) rotate(90) scale(0.9532 1)" font-size="22.17" stroke="#000" stroke-width="0.85">IMM+MSC</text>
<text transform="translate(307.12 1006.63) rotate(90) scale(0.8958 1)" font-size="22.17" stroke="#000" stroke-width="0.85">CT+MSC</text>
<text transform="translate(345.43 1005.58) rotate(90) scale(1.0230 1)" font-size="22.17" stroke="#000" stroke-width="0.85">IMM</text>
<text transform="translate(384.82 1005.72) rotate(90) scale(0.9532 1)" font-size="22.17" stroke="#000" stroke-width="0.85">IMM+MSC</text>
<text transform="translate(453.23 1006.63) rotate(90) scale(0.8958 1)" font-size="22.17" stroke="#000" stroke-width="0.85">CT+MSC</text>
<text transform="translate(490.12 1005.58) rotate(90) scale(1.0230 1)" font-size="22.17" stroke="#000" stroke-width="0.85">IMM</text>
<text transform="translate(527.42 1005.72) rotate(90) scale(0.9532 1)" font-size="22.17" stroke="#000" stroke-width="0.85">IMM+MSC</text>
<path d="M172.1 1112.4L251.4 1112.4" fill="none" stroke="#000" stroke-width="1.9"/>
<path d="M314.2 1112.4L393.2 1112.4" fill="none" stroke="#000" stroke-width="1.9"/>
<path d="M460.9 1113.2L540 1113.2" fill="none" stroke="#000" stroke-width="1.9"/>
<text transform="translate(194.65 1135.8) scale(0.9537 1)" font-size="26.09" stroke="#000" stroke-width="0.9">d1</text>
<text transform="translate(336.39 1135.8) scale(1.0147 1)" font-size="26.09" stroke="#000" stroke-width="0.9">d7</text>
<text transform="translate(482.4 1137.3) scale(1.0378 1)" font-size="26.09" stroke="#000" stroke-width="0.9">7w</text>
<rect x="697.1" y="664.2" width="27.9" height="26.6" fill="#000"/>
<text transform="translate(736.91 688.3) scale(0.9434 1)" font-size="33.62" stroke="#000" stroke-width="1.6">CD4</text>
<text transform="translate(801.63 669.47) scale(0.2041 0.2469)" font-size="100" stroke="#000" stroke-width="3.1">+</text>
<text transform="translate(810.7 688.3) scale(0.9641 1)" font-size="33.62" stroke="#000" stroke-width="1.6">/CD25</text>
<text transform="translate(904.55 669.47) scale(0.2206 0.2469)" font-size="100" stroke="#000" stroke-width="2.99">+</text>
<rect x="933.8" y="664.7" width="26.7" height="25.6" fill="#ececec" stroke="#555" stroke-width="1"/>
<text transform="translate(970.94 688.3) scale(0.9296 1)" font-size="33.62" stroke="#000" stroke-width="1.6">CD8</text>
<text transform="translate(1032.8 669.47) scale(0.2103 0.2469)" font-size="100" stroke="#000" stroke-width="3.06">+</text>
<text transform="translate(1043.9 688.3) scale(0.9800 1)" font-size="33.62" stroke="#000" stroke-width="1.6">/CD25</text>
<text transform="translate(1137.35 669.47) scale(0.2206 0.2469)" font-size="100" stroke="#000" stroke-width="2.99">+</text>
<path d="M703.75 893.1L703.75 898.6" fill="none" stroke="#000" stroke-width="1.3"/>
<path d="M701.25 893.75L706.25 893.75" fill="none" stroke="#000" stroke-width="1.3"/>
<rect x="698.5" y="898.1" width="10.5" height="103.7" fill="#000"/>
<path d="M716.45 967.9L716.45 972.3" fill="none" stroke="#000" stroke-width="1.3"/>
<path d="M713.95 968.55L718.95 968.55" fill="none" stroke="#000" stroke-width="1.3"/>
<rect x="711.55" y="972.45" width="9.8" height="28.7" fill="#d9d9d9" stroke="#1a1a1a" stroke-width="1.3"/>
<path d="M775.15 852.9L775.15 863.1" fill="none" stroke="#000" stroke-width="1.3"/>
<path d="M772.65 853.55L777.65 853.55" fill="none" stroke="#000" stroke-width="1.3"/>
<rect x="769.9" y="862.6" width="10.5" height="139.2" fill="#000"/>
<path d="M787.85 954.2L787.85 965" fill="none" stroke="#000" stroke-width="1.3"/>
<path d="M785.35 954.85L790.35 954.85" fill="none" stroke="#000" stroke-width="1.3"/>
<rect x="782.95" y="965.15" width="9.8" height="36" fill="#d9d9d9" stroke="#1a1a1a" stroke-width="1.3"/>
<path d="M810.65 880.7L810.65 889.4" fill="none" stroke="#000" stroke-width="1.3"/>
<path d="M808.15 881.35L813.15 881.35" fill="none" stroke="#000" stroke-width="1.3"/>
<rect x="805.4" y="888.9" width="10.5" height="112.9" fill="#000"/>
<path d="M823.35 965.6L823.35 972" fill="none" stroke="#000" stroke-width="1.3"/>
<path d="M820.85 966.25L825.85 966.25" fill="none" stroke="#000" stroke-width="1.3"/>
<rect x="818.45" y="972.15" width="9.8" height="29" fill="#d9d9d9" stroke="#1a1a1a" stroke-width="1.3"/>
<path d="M846.35 828.9L846.35 845.3" fill="none" stroke="#000" stroke-width="1.3"/>
<path d="M843.85 829.55L848.85 829.55" fill="none" stroke="#000" stroke-width="1.3"/>
<rect x="841.1" y="844.8" width="10.5" height="157" fill="#000"/>
<path d="M859.05 948.5L859.05 956.9" fill="none" stroke="#000" stroke-width="1.3"/>
<path d="M856.55 949.15L861.55 949.15" fill="none" stroke="#000" stroke-width="1.3"/>
<rect x="854.15" y="957.05" width="9.8" height="44.1" fill="#d9d9d9" stroke="#1a1a1a" stroke-width="1.3"/>
<path d="M917.55 873L917.55 883" fill="none" stroke="#000" stroke-width="1.3"/>
<path d="M915.05 873.65L920.05 873.65" fill="none" stroke="#000" stroke-width="1.3"/>
<rect x="912.3" y="882.5" width="10.5" height="119.3" fill="#000"/>
<path d="M930.25 954.6L930.25 963.3" fill="none" stroke="#000" stroke-width="1.3"/>
<path d="M927.75 955.25L932.75 955.25" fill="none" stroke="#000" stroke-width="1.3"/>
<rect x="925.35" y="963.45" width="9.8" height="37.7" fill="#d9d9d9" stroke="#1a1a1a" stroke-width="1.3"/>
<path d="M953.05 858.2L953.05 867.6" fill="none" stroke="#000" stroke-width="1.3"/>
<path d="M950.55 858.85L955.55 858.85" fill="none" stroke="#000" stroke-width="1.3"/>
<rect x="947.8" y="867.1" width="10.5" height="134.7" fill="#000"/>
<path d="M965.75 960.1L965.75 965.5" fill="none" stroke="#000" stroke-width="1.3"/>
<path d="M963.25 960.75L968.25 960.75" fill="none" stroke="#000" stroke-width="1.3"/>
<rect x="960.85" y="965.65" width="9.8" height="35.5" fill="#d9d9d9" stroke="#1a1a1a" stroke-width="1.3"/>
<path d="M988.75 836.8L988.75 848.6" fill="none" stroke="#000" stroke-width="1.3"/>
<path d="M986.25 837.45L991.25 837.45" fill="none" stroke="#000" stroke-width="1.3"/>
<rect x="983.5" y="848.1" width="10.5" height="153.7" fill="#000"/>
<path d="M1001.45 959.5L1001.45 964.3" fill="none" stroke="#000" stroke-width="1.3"/>
<path d="M998.95 960.15L1003.95 960.15" fill="none" stroke="#000" stroke-width="1.3"/>
<rect x="996.55" y="964.45" width="9.8" height="36.7" fill="#d9d9d9" stroke="#1a1a1a" stroke-width="1.3"/>
<path d="M1059.95 867.1L1059.95 885.8" fill="none" stroke="#000" stroke-width="1.3"/>
<path d="M1057.45 867.75L1062.45 867.75" fill="none" stroke="#000" stroke-width="1.3"/>
<rect x="1054.7" y="885.3" width="10.5" height="116.5" fill="#000"/>
<path d="M1072.65 955.8L1072.65 965.5" fill="none" stroke="#000" stroke-width="1.3"/>
<path d="M1070.15 956.45L1075.15 956.45" fill="none" stroke="#000" stroke-width="1.3"/>
<rect x="1067.75" y="965.65" width="9.8" height="35.5" fill="#d9d9d9" stroke="#1a1a1a" stroke-width="1.3"/>
<path d="M1095.65 892.6L1095.65 899.9" fill="none" stroke="#000" stroke-width="1.3"/>
<path d="M1093.15 893.25L1098.15 893.25" fill="none" stroke="#000" stroke-width="1.3"/>
<rect x="1090.4" y="899.4" width="10.5" height="102.4" fill="#000"/>
<path d="M1108.35 963.7L1108.35 972.3" fill="none" stroke="#000" stroke-width="1.3"/>
<path d="M1105.85 964.35L1110.85 964.35" fill="none" stroke="#000" stroke-width="1.3"/>
<rect x="1103.45" y="972.45" width="9.8" height="28.7" fill="#d9d9d9" stroke="#1a1a1a" stroke-width="1.3"/>
<path d="M1131.15 881.6L1131.15 891.3" fill="none" stroke="#000" stroke-width="1.3"/>
<path d="M1128.65 882.25L1133.65 882.25" fill="none" stroke="#000" stroke-width="1.3"/>
<rect x="1125.9" y="890.8" width="10.5" height="111" fill="#000"/>
<path d="M1143.85 938.6L1143.85 949" fill="none" stroke="#000" stroke-width="1.3"/>
<path d="M1141.35 939.25L1146.35 939.25" fill="none" stroke="#000" stroke-width="1.3"/>
<rect x="1138.95" y="949.15" width="9.8" height="52" fill="#d9d9d9" stroke="#1a1a1a" stroke-width="1.3"/>
<path d="M693.4 728.5L693.4 1002.95" fill="none" stroke="#000" stroke-width="2.2"/>
<path d="M687.2 1001.8L1155.3 1001.8" fill="none" stroke="#000" stroke-width="2.3"/>
<path d="M687.2 729.6L693.4 729.6" fill="none" stroke="#000" stroke-width="2.2"/>
<text transform="translate(658.33 739) scale(0.9630 1)" font-size="27.25" font-weight="bold" stroke="#000" stroke-width="0.4">10</text>
<path d="M687.2 784L693.4 784" fill="none" stroke="#000" stroke-width="2.2"/>
<text transform="translate(673.04 793.4) scale(0.9342 1)" font-size="27.25" font-weight="bold" stroke="#000" stroke-width="0.4">8</text>
<path d="M687.2 838.9L693.4 838.9" fill="none" stroke="#000" stroke-width="2.2"/>
<text transform="translate(672.89 848.3) scale(0.9535 1)" font-size="27.25" font-weight="bold" stroke="#000" stroke-width="0.4">6</text>
<path d="M687.2 893.3L693.4 893.3" fill="none" stroke="#000" stroke-width="2.2"/>
<text transform="translate(673.45 902.7) scale(0.8644 1)" font-size="27.25" font-weight="bold" stroke="#000" stroke-width="0.4">4</text>
<path d="M687.2 947.6L693.4 947.6" fill="none" stroke="#000" stroke-width="2.2"/>
<text transform="translate(672.88 957) scale(0.9634 1)" font-size="27.25" font-weight="bold" stroke="#000" stroke-width="0.4">2</text>
<path d="M687.2 1001.8L693.4 1001.8" fill="none" stroke="#000" stroke-width="2.2"/>
<text transform="translate(672.74 1011.2) scale(0.9736 1)" font-size="27.25" font-weight="bold" stroke="#000" stroke-width="0.4">0</text>
<text transform="translate(647.9 962.89) rotate(-90) scale(0.9969 1)" font-size="28.26" stroke="#000" stroke-width="1.2">% of PLN cells</text>
<path d="M704.8 826L704.8 819.5L813.1 819.5" fill="none" stroke="#000" stroke-width="1.9"/>
<text transform="translate(807.86 813.34) rotate(90) scale(0.2292 0.2452)" font-size="100" font-weight="bold" style="font-family:'DejaVu Sans',sans-serif">*</text>
<text transform="translate(820.36 813.34) rotate(90) scale(0.2292 0.2452)" font-size="100" font-weight="bold" style="font-family:'DejaVu Sans',sans-serif">*</text>
<path d="M839.7 819.5L846.2 819.5L846.2 826" fill="none" stroke="#000" stroke-width="1.9"/>
<path d="M773.9 840.5L773.9 834.1L780.2 834.1" fill="none" stroke="#000" stroke-width="1.9"/>
<text transform="translate(774.86 827.84) rotate(90) scale(0.2292 0.2452)" font-size="100" font-weight="bold" style="font-family:'DejaVu Sans',sans-serif">*</text>
<path d="M795.1 834.1L810 834.1L810 840.5" fill="none" stroke="#000" stroke-width="1.9"/>
<path d="M704.8 850.6L704.8 844L741.9 844" fill="none" stroke="#000" stroke-width="1.9"/>
<text transform="translate(736.16 837.84) rotate(90) scale(0.2292 0.2452)" font-size="100" font-weight="bold" style="font-family:'DejaVu Sans',sans-serif">*</text>
<text transform="translate(748.46 837.84) rotate(90) scale(0.2292 0.2452)" font-size="100" font-weight="bold" style="font-family:'DejaVu Sans',sans-serif">*</text>
<path d="M767.8 844L774.3 844L774.3 850.6" fill="none" stroke="#000" stroke-width="1.9"/>
<text transform="translate(695.81 1026.2) scale(0.9245 1)" font-size="24.64" stroke="#000" stroke-width="0.9">CT</text>
<text transform="translate(772.22 1007.03) rotate(90) scale(0.8958 1)" font-size="22.17" stroke="#000" stroke-width="0.85">CT+MSC</text>
<text transform="translate(810.82 1005.98) rotate(90) scale(1.0230 1)" font-size="22.17" stroke="#000" stroke-width="0.85">IMM</text>
<text transform="translate(849.62 1006.12) rotate(90) scale(0.9532 1)" font-size="22.17" stroke="#000" stroke-width="0.85">IMM+MSC</text>
<text transform="translate(914.92 1007.03) rotate(90) scale(0.8958 1)" font-size="22.17" stroke="#000" stroke-width="0.85">CT+MSC</text>
<text transform="translate(953.02 1005.98) rotate(90) scale(1.0230 1)" font-size="22.17" stroke="#000" stroke-width="0.85">IMM</text>
<text transform="translate(992.02 1006.12) rotate(90) scale(0.9532 1)" font-size="22.17" stroke="#000" stroke-width="0.85">IMM+MSC</text>
<text transform="translate(1060.92 1007.03) rotate(90) scale(0.8958 1)" font-size="22.17" stroke="#000" stroke-width="0.85">CT+MSC</text>
<text transform="translate(1097.83 1005.98) rotate(90) scale(1.0230 1)" font-size="22.17" stroke="#000" stroke-width="0.85">IMM</text>
<text transform="translate(1134.72 1006.12) rotate(90) scale(0.9532 1)" font-size="22.17" stroke="#000" stroke-width="0.85">IMM+MSC</text>
<path d="M779.4 1113.1L858.5 1113.1" fill="none" stroke="#000" stroke-width="1.9"/>
<path d="M922.2 1113.1L1000.9 1113.1" fill="none" stroke="#000" stroke-width="1.9"/>
<path d="M1069.1 1113.9L1147.8 1113.9" fill="none" stroke="#000" stroke-width="1.9"/>
<text transform="translate(802.27 1136.4) scale(0.9424 1)" font-size="26.09" stroke="#000" stroke-width="0.9">d1</text>
<text transform="translate(943.84 1136.4) scale(1.0673 1)" font-size="26.09" stroke="#000" stroke-width="0.9">d7</text>
<text transform="translate(1089.68 1138) scale(1.0534 1)" font-size="26.09" stroke="#000" stroke-width="0.9">7w</text>
<rect x="1325.35" y="677.45" width="23.7" height="21.3" fill="#fff" stroke="#000" stroke-width="1.7"/>
<text transform="translate(1358.37 698.9) scale(0.8786 1)" font-size="32.61" stroke="#000" stroke-width="1.2">CT</text>
<rect x="1424.25" y="677.45" width="23.5" height="21.3" fill="#6b6b6b" stroke="#1a1a1a" stroke-width="1.7"/>
<text transform="translate(1456.56 698.9) scale(1.0690 1)" font-size="32.61" stroke="#000" stroke-width="1.2">IMM</text>
<rect x="1546.7" y="677.4" width="23.5" height="21.4" fill="#c4c4c4" stroke="#222" stroke-width="1.6"/>
<text transform="translate(1580.79 699.2) scale(0.9919 1)" font-size="32.61" stroke="#000" stroke-width="1.2">IMM+MSC</text>
<text transform="translate(1383.97 780.2) scale(0.9142 1)" font-size="32.46" font-weight="bold" stroke="#000" stroke-width="0.6">IL-4</text>
<text transform="translate(1621.9 780.8) scale(0.9018 1)" font-size="32.46" font-weight="bold" stroke="#000" stroke-width="0.6">FoxP3</text>
<text transform="translate(1268.3 1092.18) rotate(-90) scale(0.9544 1)" font-size="29.57" font-weight="bold" stroke="#000" stroke-width="0.5">Rel. mRNA expression</text>
<path d="M1318 815.1L1318 1068.9" fill="none" stroke="#000" stroke-width="2"/>
<path d="M1311.6 1067.9L1514.6 1067.9" fill="none" stroke="#000" stroke-width="2"/>
<path d="M1311.6 816.1L1318 816.1" fill="none" stroke="#000" stroke-width="2"/>
<text transform="translate(1295.71 825.7) scale(0.9694 1)" font-size="26.96" font-weight="bold" stroke="#000" stroke-width="0.4">6</text>
<path d="M1311.6 858.1L1318 858.1" fill="none" stroke="#000" stroke-width="2"/>
<text transform="translate(1295.44 867.7) scale(0.9703 1)" font-size="26.96" font-weight="bold" stroke="#000" stroke-width="0.4">5</text>
<path d="M1311.6 900L1318 900" fill="none" stroke="#000" stroke-width="2"/>
<text transform="translate(1294.89 909.6) scale(0.9723 1)" font-size="26.96" font-weight="bold" stroke="#000" stroke-width="0.4">4</text>
<path d="M1311.6 942L1318 942" fill="none" stroke="#000" stroke-width="2"/>
<text transform="translate(1295.7 951.6) scale(0.9700 1)" font-size="26.96" font-weight="bold" stroke="#000" stroke-width="0.4">3</text>
<path d="M1311.6 984L1318 984" fill="none" stroke="#000" stroke-width="2"/>
<text transform="translate(1295.85 993.6) scale(0.9691 1)" font-size="26.96" font-weight="bold" stroke="#000" stroke-width="0.4">2</text>
<path d="M1311.6 1025.9L1318 1025.9" fill="none" stroke="#000" stroke-width="2"/>
<text transform="translate(1295.46 1035.5) scale(0.9684 1)" font-size="26.96" font-weight="bold" stroke="#000" stroke-width="0.4">1</text>
<path d="M1311.6 1067.9L1318 1067.9" fill="none" stroke="#000" stroke-width="2"/>
<text transform="translate(1295.85 1077.5) scale(0.9688 1)" font-size="26.96" font-weight="bold" stroke="#000" stroke-width="0.4">0</text>
<path d="M1335.6 1016L1335.6 1026.7" fill="none" stroke="#000" stroke-width="1.8"/>
<path d="M1330.6 1016.8L1340.6 1016.8" fill="none" stroke="#000" stroke-width="1.6"/>
<rect x="1327.4" y="1027.2" width="16.4" height="40.2" fill="#fff" stroke="#111" stroke-width="2"/>
<path d="M1389.05 958.8L1389.05 983.2" fill="none" stroke="#000" stroke-width="1.8"/>
<path d="M1384.05 959.6L1394.05 959.6" fill="none" stroke="#000" stroke-width="1.6"/>
<rect x="1380.6" y="983.7" width="16.9" height="83.7" fill="#666" stroke="#111" stroke-width="2"/>
<path d="M1415.9 949.6L1415.9 973.1" fill="none" stroke="#000" stroke-width="1.8"/>
<path d="M1410.9 950.4L1420.9 950.4" fill="none" stroke="#000" stroke-width="1.6"/>
<rect x="1407.6" y="973.6" width="16.6" height="93.8" fill="#d9d9d9" stroke="#111" stroke-width="2"/>
<path d="M1469.7 1039L1469.7 1043.9" fill="none" stroke="#000" stroke-width="1.8"/>
<path d="M1464.7 1039.8L1474.7 1039.8" fill="none" stroke="#000" stroke-width="1.6"/>
<rect x="1461.4" y="1044.4" width="16.6" height="23" fill="#666" stroke="#111" stroke-width="2"/>
<path d="M1496.5 1006.9L1496.5 1019.4" fill="none" stroke="#000" stroke-width="1.8"/>
<path d="M1491.5 1007.7L1501.5 1007.7" fill="none" stroke="#000" stroke-width="1.6"/>
<rect x="1488.3" y="1019.9" width="16.4" height="47.5" fill="#d9d9d9" stroke="#111" stroke-width="2"/>
<circle cx="1335.33" cy="970.48" r="2.3"/>
<circle cx="1335.33" cy="981.2" r="2.3"/>
<circle cx="1335.33" cy="1020.43" r="2.3"/>
<circle cx="1338.4" cy="1031.15" r="2.3"/>
<circle cx="1332.57" cy="1036.36" r="2.3"/>
<circle cx="1335.64" cy="1046.47" r="2.3"/>
<circle cx="1340.85" cy="1049.23" r="2.3"/>
<circle cx="1332.57" cy="1054.13" r="2.3"/>
<circle cx="1386.2" cy="977.22" r="2.3"/>
<circle cx="1392.33" cy="981.2" r="2.3"/>
<circle cx="1388.96" cy="988.86" r="2.3"/>
<circle cx="1388.96" cy="1012.15" r="2.3"/>
<circle cx="1388.96" cy="1042.18" r="2.3"/>
<circle cx="1388.96" cy="1050.15" r="2.3"/>
<circle cx="1388.96" cy="1059.34" r="2.3"/>
<circle cx="1415.92" cy="902.45" r="2.3"/>
<circle cx="1415.92" cy="965.88" r="2.3"/>
<circle cx="1415.92" cy="979.67" r="2.3"/>
<circle cx="1415.92" cy="1010.93" r="2.3"/>
<circle cx="1415.92" cy="1022.88" r="2.3"/>
<circle cx="1415.92" cy="1045.86" r="2.3"/>
<circle cx="1469.55" cy="1024.1" r="2.3"/>
<circle cx="1463.42" cy="1035.75" r="2.3"/>
<circle cx="1475.06" cy="1037.28" r="2.3"/>
<circle cx="1466.48" cy="1046.47" r="2.3"/>
<circle cx="1472.61" cy="1048.01" r="2.3"/>
<circle cx="1463.42" cy="1050.76" r="2.3"/>
<circle cx="1469.55" cy="1052.3" r="2.3"/>
<circle cx="1475.68" cy="1054.75" r="2.3"/>
<circle cx="1469.55" cy="1057.2" r="2.3"/>
<circle cx="1493.14" cy="962.82" r="2.3"/>
<circle cx="1498.66" cy="960.06" r="2.3"/>
<circle cx="1493.14" cy="1014.3" r="2.3"/>
<circle cx="1498.66" cy="1017.36" r="2.3"/>
<circle cx="1493.14" cy="1033.91" r="2.3"/>
<circle cx="1498.66" cy="1032.38" r="2.3"/>
<circle cx="1496.21" cy="1044.63" r="2.3"/>
<circle cx="1493.14" cy="1052.3" r="2.3"/>
<circle cx="1498.66" cy="1050.15" r="2.3"/>
<circle cx="1385.91" cy="868.86" r="2.3"/>
<circle cx="1392.12" cy="868.86" r="2.3"/>
<circle cx="1415.99" cy="883.74" r="2.3"/>
<text transform="translate(1385.31 1098.8) scale(0.9668 1)" font-size="28.12" font-weight="bold">d1</text>
<text transform="translate(1464.92 1098.8) scale(1.0457 1)" font-size="28.12" font-weight="bold">d7</text>
<path d="M1419.7 852.4L1416 852.4L1416 859.6" fill="none" stroke="#000" stroke-width="2.1"/>
<text transform="translate(1414.57 845.97) rotate(90) scale(0.2396 0.2667)" font-size="100" font-weight="bold" style="font-family:'DejaVu Sans',sans-serif">*</text>
<path d="M1437.4 852.4L1469.6 852.4L1469.6 859.6" fill="none" stroke="#000" stroke-width="2.1"/>
<path d="M1575.6 815.1L1575.6 1068.9" fill="none" stroke="#000" stroke-width="2"/>
<path d="M1569.2 1067.9L1768 1067.9" fill="none" stroke="#000" stroke-width="2"/>
<path d="M1569.2 816.1L1575.6 816.1" fill="none" stroke="#000" stroke-width="2"/>
<text transform="translate(1553.31 825.7) scale(0.9694 1)" font-size="26.96" font-weight="bold" stroke="#000" stroke-width="0.4">6</text>
<path d="M1569.2 900L1575.6 900" fill="none" stroke="#000" stroke-width="2"/>
<text transform="translate(1552.49 909.6) scale(0.9723 1)" font-size="26.96" font-weight="bold" stroke="#000" stroke-width="0.4">4</text>
<path d="M1569.2 984L1575.6 984" fill="none" stroke="#000" stroke-width="2"/>
<text transform="translate(1553.45 993.6) scale(0.9691 1)" font-size="26.96" font-weight="bold" stroke="#000" stroke-width="0.4">2</text>
<path d="M1569.2 1067.9L1575.6 1067.9" fill="none" stroke="#000" stroke-width="2"/>
<text transform="translate(1553.45 1077.5) scale(0.9688 1)" font-size="26.96" font-weight="bold" stroke="#000" stroke-width="0.4">0</text>
<path d="M1593.85 1016L1593.85 1026.1" fill="none" stroke="#000" stroke-width="1.8"/>
<path d="M1588.85 1016.8L1598.85 1016.8" fill="none" stroke="#000" stroke-width="1.6"/>
<rect x="1585.5" y="1026.6" width="16.7" height="40.8" fill="#fff" stroke="#111" stroke-width="2"/>
<path d="M1647.45 990L1647.45 1000.7" fill="none" stroke="#000" stroke-width="1.8"/>
<path d="M1642.45 990.8L1652.45 990.8" fill="none" stroke="#000" stroke-width="1.6"/>
<rect x="1639.1" y="1001.2" width="16.7" height="66.2" fill="#666" stroke="#111" stroke-width="2"/>
<path d="M1674.25 937.1L1674.25 958.9" fill="none" stroke="#000" stroke-width="1.8"/>
<path d="M1669.25 937.9L1679.25 937.9" fill="none" stroke="#000" stroke-width="1.6"/>
<rect x="1665.9" y="959.4" width="16.7" height="108" fill="#d9d9d9" stroke="#111" stroke-width="2"/>
<path d="M1727.75 1021.3L1727.75 1025.5" fill="none" stroke="#000" stroke-width="1.8"/>
<path d="M1722.75 1022.1L1732.75 1022.1" fill="none" stroke="#000" stroke-width="1.6"/>
<rect x="1719.4" y="1026" width="16.7" height="41.4" fill="#666" stroke="#111" stroke-width="2"/>
<path d="M1754.65 998.3L1754.65 1006.8" fill="none" stroke="#000" stroke-width="1.8"/>
<path d="M1749.65 999.1L1759.65 999.1" fill="none" stroke="#000" stroke-width="1.6"/>
<rect x="1746.3" y="1007.3" width="16.7" height="60.1" fill="#d9d9d9" stroke="#111" stroke-width="2"/>
<circle cx="1590.59" cy="1001.73" r="2.3"/>
<circle cx="1596.71" cy="1004.19" r="2.3"/>
<circle cx="1587.52" cy="1040.34" r="2.3"/>
<circle cx="1593.65" cy="1043.1" r="2.3"/>
<circle cx="1599.78" cy="1043.1" r="2.3"/>
<circle cx="1647.28" cy="949.95" r="2.3"/>
<circle cx="1647.28" cy="976.61" r="2.3"/>
<circle cx="1644.82" cy="985.19" r="2.3"/>
<circle cx="1649.42" cy="989.48" r="2.3"/>
<circle cx="1647.28" cy="1007.25" r="2.3"/>
<circle cx="1647.28" cy="1017.98" r="2.3"/>
<circle cx="1647.28" cy="1040.96" r="2.3"/>
<circle cx="1647.28" cy="1048.62" r="2.3"/>
<circle cx="1673.93" cy="917.77" r="2.3"/>
<circle cx="1673.93" cy="996.53" r="2.3"/>
<circle cx="1670.87" cy="1002.65" r="2.3"/>
<circle cx="1677" cy="1005.11" r="2.3"/>
<circle cx="1673.93" cy="1015.83" r="2.3"/>
<circle cx="1724.5" cy="1012.46" r="2.3"/>
<circle cx="1730.62" cy="1015.83" r="2.3"/>
<circle cx="1721.43" cy="1022.57" r="2.3"/>
<circle cx="1730.62" cy="1022.57" r="2.3"/>
<circle cx="1724.5" cy="1028.09" r="2.3"/>
<circle cx="1730.62" cy="1032.38" r="2.3"/>
<circle cx="1724.5" cy="1037.89" r="2.3"/>
<circle cx="1730.62" cy="1036.97" r="2.3"/>
<circle cx="1754.53" cy="969.87" r="2.3"/>
<circle cx="1754.53" cy="979.06" r="2.3"/>
<circle cx="1754.53" cy="998.06" r="2.3"/>
<circle cx="1754.53" cy="1015.83" r="2.3"/>
<circle cx="1748.4" cy="1022.57" r="2.3"/>
<circle cx="1751.46" cy="1024.1" r="2.3"/>
<circle cx="1757.59" cy="1022.57" r="2.3"/>
<circle cx="1760.65" cy="1021.04" r="2.3"/>
<circle cx="1674" cy="879.09" r="2.3"/>
<circle cx="1674" cy="899.56" r="2.3"/>
<text transform="translate(1641.04 1098.5) scale(0.9409 1)" font-size="28.12" font-weight="bold">d1</text>
<text transform="translate(1721.14 1098.5) scale(1.0359 1)" font-size="28.12" font-weight="bold">d7</text>
<path d="M1596.5 847L1592.2 847L1592.2 854.6" fill="none" stroke="#000" stroke-width="2.1"/>
<text transform="translate(1592.87 840.57) rotate(90) scale(0.2396 0.2667)" font-size="100" font-weight="bold" style="font-family:'DejaVu Sans',sans-serif">*</text>
<path d="M1615.1 847L1674 847L1674 854.6" fill="none" stroke="#000" stroke-width="2.1"/>
<path d="M1676.5 861.7L1673.1 861.7L1673.1 868.5" fill="none" stroke="#000" stroke-width="2.1"/>
<text transform="translate(1671.37 855.27) rotate(90) scale(0.2396 0.2667)" font-size="100" font-weight="bold" style="font-family:'DejaVu Sans',sans-serif">*</text>
<text transform="translate(1683.77 855.27) rotate(90) scale(0.2396 0.2667)" font-size="100" font-weight="bold" style="font-family:'DejaVu Sans',sans-serif">*</text>
<path d="M1705 861.7L1726.7 861.7L1726.7 868.5" fill="none" stroke="#000" stroke-width="2.1"/>
</svg>
</body></html>
